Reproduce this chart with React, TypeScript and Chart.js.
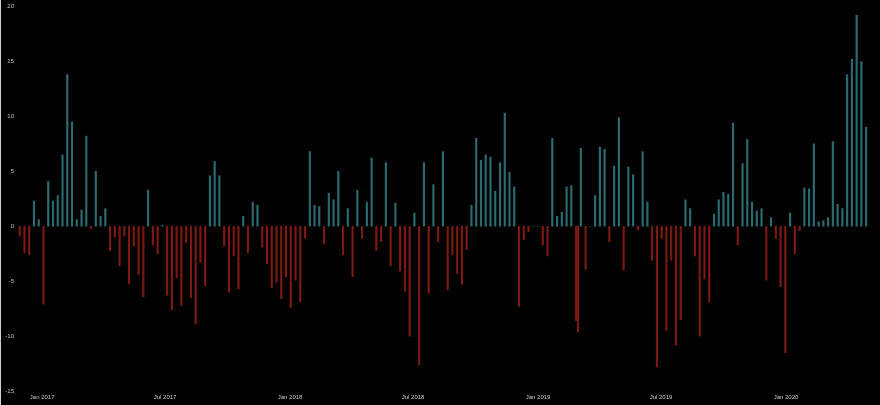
import React, { useEffect, useRef } from 'react';
import { Chart, registerables } from 'chart.js';

Chart.register(...registerables);

// Weekly series, first week starting 2016-11-29
const START_DATE = '2016-11-29';
const weeklyValues: number[] = [
  -0.9, -2.4, -2.6, 2.3, 0.6, -7.1, 4.1, 2.3, 2.8, 6.5,
  13.8, 9.5, 0.6, 1.5, 8.2, -0.2, 5.0, 0.9, 1.6, -2.2,
  -1.0, -3.6, -0.9, -5.2, -1.8, -4.4, -6.4, 3.3, -1.7, -2.5,
  0.1, -6.3, -7.6, -4.7, -7.2, -1.5, -6.5, -8.9, -3.3, -5.4,
  4.6, 5.9, 4.6, -1.8, -6.0, -2.7, -5.7, 0.9, -2.4, 2.2,
  1.9, -1.9, -3.4, -5.6, -5.1, -6.6, -4.6, -7.4, -4.9, -6.9,
  -1.1, 6.8, 1.9, 1.8, -1.6, 3.0, 2.4, 5.0, -2.6, 1.6,
  -4.6, 3.3, -1.1, 2.2, 6.2, -2.2, -1.4, 5.8, -3.6, 2.1,
  -4.1, -5.9, -10.0, 1.2, -12.6, 5.8, -6.1, 3.8, -1.4, 6.8,
  -5.8, -2.6, -4.3, -5.3, -2.1, 1.9, 8.0, 6.0, 6.5, 6.3,
  3.2, 5.8, 10.3, 4.9, 3.6, -7.3, -1.2, -0.5, 0, 0,
  -1.7, -2.7, 8.0, 0.9, 1.3, 3.6, 3.7, -8.6, 7.1, -3.9,
  0, 2.8, 7.2, 7.0, -1.4, 5.5, 9.9, -4.0, 5.4, 4.7,
  -0.3, 6.8, 2.2, -3.1, -12.8, -1.1, -9.5, -3.1, -10.8, -8.5,
  2.4, 1.6, -2.7, -10.0, -4.8, -6.9, 1.1, 2.4, 3.1, 2.9,
  9.4, -1.7, 5.7, 7.9, 2.2, 1.4, 1.6, -4.9, 0.8, -1.1,
  -5.5, -11.5, 1.2, -2.5, -0.4, 3.5, 3.4, 7.5, 0.4, 0.5,
  0.8, 7.7, 2.0, 1.6, 13.8, 15.2, 19.2, 15.0, 9.0,
];

// One extra, off-week entry
const extraDates: string[] = ['2019-03-01'];
const extraValues: number[] = [-9.6];

const tickDates: string[] = [
  '2017-01-01', '2017-07-01', '2018-01-01', '2018-07-01',
  '2019-01-01', '2019-07-01', '2020-01-01',
];
const tickLabels: string[] = [
  'Jan 2017', 'Jul 2017', 'Jan 2018', 'Jul 2018',
  'Jan 2019', 'Jul 2019', 'Jan 2020',
];

const POS_COLOR = '#2b6a6e';
const NEG_COLOR = '#7c1a12';
const TEXT_COLOR = '#c4c4c4';

const DAY = 86400000;
const startMs = Date.parse(START_DATE + 'T00:00:00Z');
const dayOf = (d: string) => (Date.parse(d + 'T00:00:00Z') - startMs) / DAY;

export default function App() {
  const ref = useRef<HTMLCanvasElement | null>(null);

  useEffect(() => {
    document.body.style.margin = '0';
    document.body.style.background = '#000';
    if (!ref.current) return;

    const points: { x: number; y: number }[] = weeklyValues.map((v, i) => ({ x: i * 7, y: v }));
    extraDates.forEach((d, i) => points.push({ x: dayOf(d), y: extraValues[i] }));
    points.sort((a, b) => a.x - b.x);

    const tickDays = tickDates.map(dayOf);
    const font = { family: 'Liberation Sans', size: 6 };

    const chart = new Chart(ref.current, {
      type: 'bar',
      data: {
        datasets: [
          {
            data: points as any,
            backgroundColor: (ctx: any) => ((ctx.raw && ctx.raw.y) >= 0 ? POS_COLOR : NEG_COLOR),
            barThickness: 1.5,
            borderWidth: 0,
          },
        ],
      },
      options: {
        animation: false,
        responsive: false,
        maintainAspectRatio: false,
        layout: { padding: { top: 5, right: 8, left: 0, bottom: 0 } },
        plugins: { legend: { display: false }, tooltip: { enabled: false } },
        scales: {
          x: {
            type: 'linear',
            min: -4,
            max: 1254.6,
            offset: false,
            grid: { display: false, drawTicks: false },
            border: { display: false },
            afterBuildTicks: (s: any) => {
              s.ticks = tickDays.map((v) => ({ value: v }));
            },
            afterFit: (s: any) => {
              s.height = 14;
            },
            ticks: {
              autoSkip: false,
              maxRotation: 0,
              padding: 3,
              color: TEXT_COLOR,
              font,
              callback: (_v: any, i: number) => tickLabels[i],
            },
          },
          y: {
            min: -15,
            max: 20,
            grid: { display: false, drawTicks: false },
            border: { display: false },
            afterFit: (s: any) => {
              s.width = 17;
            },
            ticks: { stepSize: 5, padding: 3, color: TEXT_COLOR, font },
          },
        },
      } as any,
    });
    return () => chart.destroy();
  }, []);

  return (
    <div style={{ position: 'relative', width: 880, height: 405, background: '#000' }}>
      <canvas ref={ref} width={880} height={405} style={{ display: 'block' }} />
      <div style={{ position: 'absolute', left: 0, top: 0, width: 1, height: 405, background: '#cfcfcf' }} />
    </div>
  );
}
